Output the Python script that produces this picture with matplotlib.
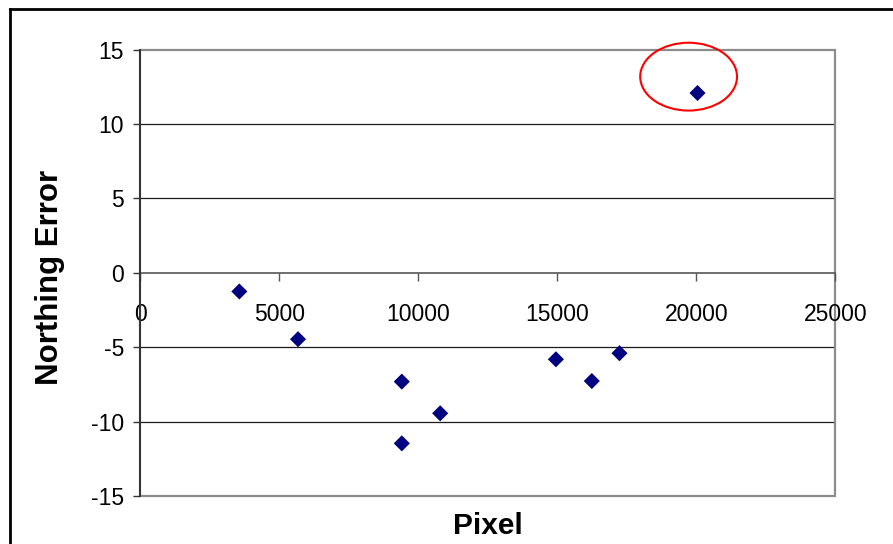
import numpy as np
import matplotlib
matplotlib.use("Agg")
import matplotlib.pyplot as plt
from matplotlib.patches import Ellipse, Rectangle
from matplotlib.lines import Line2D

# data
pixel = [3570, 5680, 9410, 9410, 10790, 14950, 16240, 17235, 20040]
northing_error = [-1.25, -4.46, -7.31, -11.46, -9.44, -5.81, -7.27, -5.40, 12.09]
x_ticks = [0, 5000, 10000, 15000, 20000, 25000]
y_ticks = [-15, -10, -5, 0, 5, 10, 15]
outlier = 8  # the circled point

plt.rcParams["font.family"] = ["Liberation Sans", "DejaVu Sans"]
plt.rcParams["axes.unicode_minus"] = False

fig = plt.figure(figsize=(8.93, 5.44), dpi=100)
ax = fig.add_axes([0.1568, 0.0882, 0.7788, 0.8204])

ax.scatter(pixel, northing_error, marker="D", s=8.2 ** 2, color="#000080",
           edgecolors="none", zorder=4)

ax.set_xlim(x_ticks[0], x_ticks[-1])
ax.set_ylim(y_ticks[0], y_ticks[-1])
ax.set_xticks(x_ticks)
ax.set_yticks(y_ticks)

# horizontal gridlines
for y in y_ticks[1:-1]:
    if y != 0:
        ax.axhline(y, color="#1a1a1a", lw=0.9, zorder=1)

# plot area border (grey), y axis dark, x axis crossing at zero
ax.add_patch(Rectangle((0, 0), 1, 1, transform=ax.transAxes, fill=False,
                       ec="#8c8c8c", lw=1.6, clip_on=False, zorder=1.5))
for s in ["top", "right"]:
    ax.spines[s].set_visible(False)
ax.spines["left"].set_color("#333333")
ax.spines["left"].set_linewidth(1.4)
ax.spines["left"].set_zorder(3)
ax.spines["bottom"].set_position(("data", 0))
ax.spines["bottom"].set_color("#555555")
ax.spines["bottom"].set_linewidth(1.2)

ax.tick_params(axis="x", direction="out", length=5.8, width=1, color="#555555",
               pad=16, labelsize=16.5)
ax.tick_params(axis="y", direction="out", length=5, width=1, color="#333333",
               pad=6.5, labelsize=16.5)

ax.set_xlabel("Pixel", fontsize=21.5, fontweight="bold", labelpad=0)
ax.xaxis.set_label_coords(0.5, -0.035)
ax.set_ylabel("Northing Error", fontsize=22.5, fontweight="bold")
ax.yaxis.set_label_coords(-0.108, 0.49)

# red ring round the outlier
ax.add_patch(Ellipse((pixel[outlier] - 320, northing_error[outlier] + 1.1),
                     width=3480, height=4.56, fill=False, ec="red", lw=1.5,
                     clip_on=False, zorder=5))

# outer chart frame (only left and top edges are in view)
fig.add_artist(Line2D([10 / 893, 10 / 893], [0, 1 - 9 / 544], color="black", lw=2))
fig.add_artist(Line2D([10 / 893, 1], [1 - 9 / 544, 1 - 9 / 544], color="black", lw=2))

fig.savefig("out.png", dpi=100)
